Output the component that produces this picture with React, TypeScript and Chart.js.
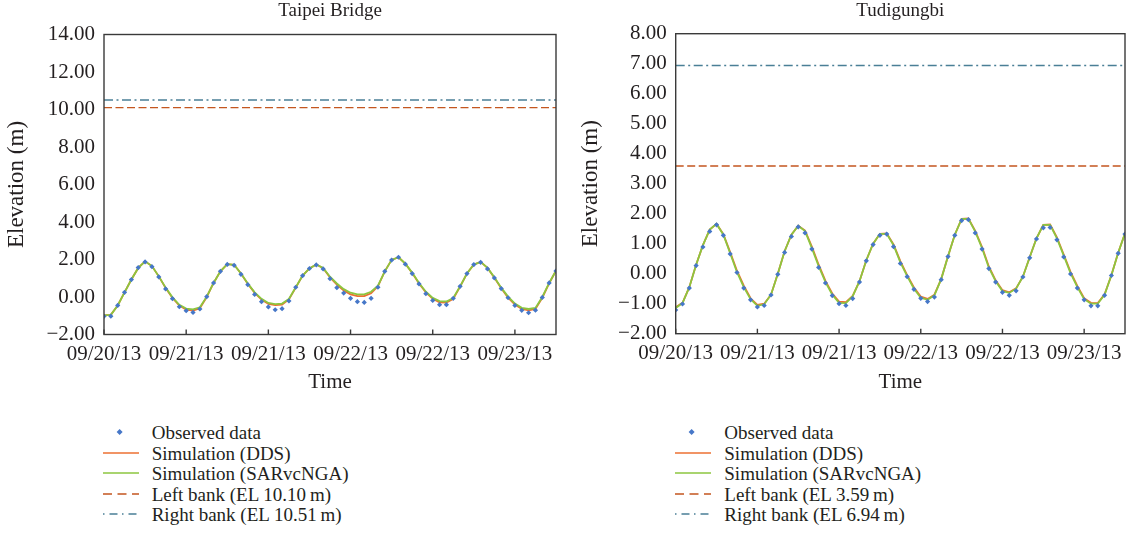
import React, { useEffect, useRef } from 'react';
import { Chart, registerables } from 'chart.js';

Chart.register(...registerables);

// ---------- data ----------
const hourTicks = [0, 12, 24, 36, 48, 60];
const hourTickLabels = ['09/20/13', '09/21/13', '09/21/13', '09/22/13', '09/22/13', '09/23/13'];
const hourMax = 66;

const taipeiTitle = 'Taipei Bridge';
const taipeiYTicks = [-2, 0, 2, 4, 6, 8, 10, 12, 14];
const taipeiObserved = [
  -1.03, -1.02, -0.45, 0.25, 0.93, 1.57, 1.87, 1.62, 1.07, 0.43,
  -0.09, -0.52, -0.73, -0.82, -0.64, 0.02, 0.75, 1.37, 1.74, 1.69,
  1.21, 0.66, 0.14, -0.25, -0.53, -0.68, -0.62, -0.21, 0.52, 1.14,
  1.52, 1.71, 1.50, 0.98, 0.50, 0.21, -0.07, -0.25, -0.29, -0.07,
  0.52, 1.37, 1.97, 2.12, 1.75, 1.25, 0.70, 0.18, -0.18, -0.41,
  -0.41, -0.07, 0.57, 1.25, 1.73, 1.85, 1.50, 1.02, 0.45, -0.04,
  -0.45, -0.71, -0.84, -0.70, -0.02, 0.75, 1.39,
];
const taipeiDDS = [
  -0.98, -0.95, -0.45, 0.25, 0.93, 1.55, 1.90, 1.65, 1.10, 0.48,
  -0.05, -0.46, -0.67, -0.72, -0.60, 0.00, 0.75, 1.37, 1.75, 1.72,
  1.25, 0.70, 0.22, -0.14, -0.37, -0.43, -0.40, -0.13, 0.50, 1.14,
  1.52, 1.73, 1.53, 1.05, 0.66, 0.34, 0.14, 0.05, 0.05, 0.20,
  0.57, 1.37, 1.98, 2.12, 1.78, 1.28, 0.72, 0.24, -0.10, -0.28,
  -0.30, -0.10, 0.55, 1.25, 1.73, 1.87, 1.55, 1.03, 0.47, -0.03,
  -0.40, -0.64, -0.71, -0.64, -0.04, 0.73, 1.40,
];
const taipeiSARvcNGA = [
  -0.98, -0.95, -0.45, 0.25, 0.93, 1.55, 1.90, 1.65, 1.10, 0.50,
  -0.02, -0.42, -0.62, -0.66, -0.55, 0.02, 0.75, 1.37, 1.75, 1.72,
  1.25, 0.72, 0.25, -0.10, -0.32, -0.38, -0.35, -0.10, 0.52, 1.14,
  1.52, 1.73, 1.55, 1.08, 0.72, 0.42, 0.23, 0.14, 0.14, 0.28,
  0.60, 1.37, 1.98, 2.12, 1.78, 1.30, 0.75, 0.28, -0.05, -0.22,
  -0.24, -0.05, 0.57, 1.25, 1.73, 1.87, 1.55, 1.05, 0.50, 0.02,
  -0.35, -0.58, -0.64, -0.58, 0.00, 0.75, 1.40,
];
const taipeiLeftBank = 10.10;
const taipeiRightBank = 10.51;
const taipeiLegend = ['Observed data', 'Simulation (DDS)', 'Simulation (SARvcNGA)', 'Left bank (EL 10.10\u2009m)', 'Right bank (EL 10.51\u2009m)'];

const tudiTitle = 'Tudigungbi';
const tudiYTicks = [-2, -1, 0, 1, 2, 3, 4, 5, 6, 7, 8];
const tudiObserved = [
  -1.21, -1.01, -0.48, 0.27, 0.89, 1.41, 1.63, 1.28, 0.66, 0.04,
  -0.48, -0.87, -1.11, -1.06, -0.71, -0.02, 0.71, 1.24, 1.56, 1.36,
  0.82, 0.21, -0.31, -0.73, -1.00, -1.06, -0.83, -0.28, 0.43, 0.97,
  1.28, 1.32, 0.90, 0.34, -0.10, -0.52, -0.82, -0.93, -0.78, -0.20,
  0.57, 1.28, 1.77, 1.80, 1.36, 0.82, 0.17, -0.28, -0.62, -0.72,
  -0.57, -0.11, 0.53, 1.16, 1.53, 1.54, 1.13, 0.56, -0.01, -0.48,
  -0.87, -1.07, -1.07, -0.72, -0.06, 0.68, 1.32,
];
const tudiDDS = [
  -1.12, -0.97, -0.45, 0.30, 0.95, 1.47, 1.66, 1.32, 0.72, 0.10,
  -0.40, -0.82, -1.04, -1.00, -0.70, 0.00, 0.75, 1.30, 1.60, 1.44,
  0.90, 0.30, -0.24, -0.66, -0.93, -0.95, -0.74, -0.25, 0.45, 1.00,
  1.33, 1.34, 0.98, 0.42, -0.05, -0.46, -0.76, -0.84, -0.70, -0.18,
  0.58, 1.30, 1.83, 1.84, 1.43, 0.89, 0.24, -0.22, -0.55, -0.62,
  -0.49, -0.10, 0.55, 1.18, 1.63, 1.64, 1.21, 0.64, 0.06, -0.41,
  -0.82, -0.97, -0.98, -0.69, -0.05, 0.70, 1.35,
];
const tudiSARvcNGA = [
  -1.14, -0.98, -0.45, 0.30, 0.95, 1.47, 1.66, 1.30, 0.68, 0.05,
  -0.45, -0.85, -1.07, -1.02, -0.70, 0.00, 0.75, 1.30, 1.60, 1.42,
  0.85, 0.25, -0.28, -0.70, -0.97, -0.98, -0.75, -0.25, 0.45, 1.00,
  1.33, 1.33, 0.95, 0.38, -0.08, -0.50, -0.80, -0.87, -0.72, -0.18,
  0.58, 1.30, 1.83, 1.83, 1.40, 0.85, 0.20, -0.25, -0.58, -0.64,
  -0.50, -0.10, 0.55, 1.18, 1.63, 1.63, 1.18, 0.60, 0.02, -0.45,
  -0.85, -1.00, -1.00, -0.70, -0.05, 0.70, 1.35,
];
const tudiLeftBank = 3.59;
const tudiRightBank = 6.94;
const tudiLegend = ['Observed data', 'Simulation (DDS)', 'Simulation (SARvcNGA)', 'Left bank (EL 3.59\u2009m)', 'Right bank (EL 6.94\u2009m)'];

// ---------- styles ----------
const FONT = "'Liberation Serif', 'Times New Roman', serif";
const TEXT = '#231f20';
const BLUE = '#4677c8';
const ORANGE = '#ec7032';
const GREEN = '#8cc63f';
const BROWN = '#c4561f';
const TEAL = '#4a7f96';
const FRAME = '#3a3a3a';
const LEFT_DASH = [8, 3.5];
const RIGHT_DASH = [9, 3.5, 2, 3.5];
const AXIS_FONT_SIZE = 21;
const YTITLE_FONT_SIZE = 23;
const TITLE_FONT_SIZE = 19;
const LEGEND_FONT_SIZE = 19;
const LEGEND_STEP = 20.6;

const fmt = (v: number) => (v < 0 ? '\u2212' + Math.abs(v).toFixed(2) : v.toFixed(2));

const framePlugin = {
  id: 'frameBox',
  afterDraw(chart: any) {
    const { ctx, chartArea } = chart;
    const xs = chart.scales.x;
    ctx.save();
    ctx.strokeStyle = FRAME;
    ctx.lineWidth = 1.4;
    ctx.strokeRect(chartArea.left, chartArea.top, chartArea.right - chartArea.left, chartArea.bottom - chartArea.top);
    ctx.beginPath();
    xs.ticks.forEach((t: any) => {
      const px = xs.getPixelForValue(t.value);
      ctx.moveTo(px, chartArea.bottom);
      ctx.lineTo(px, chartArea.bottom - 5);
    });
    ctx.stroke();
    ctx.restore();
  },
};

const titlePlugin = {
  id: 'panelTitle',
  afterDraw(chart: any, _args: any, opts: any) {
    const { ctx, chartArea } = chart;
    ctx.save();
    ctx.font = `${TITLE_FONT_SIZE}px ${FONT}`;
    ctx.fillStyle = TEXT;
    ctx.textAlign = 'center';
    ctx.textBaseline = 'alphabetic';
    ctx.fillText(opts.text, (chartArea.left + chartArea.right) / 2, opts.y);
    ctx.restore();
  },
};

type PanelProps = {
  title: string;
  yTicks: number[];
  observed: number[];
  dds: number[];
  sar: number[];
  leftBank: number;
  rightBank: number;
  width: number;
  height: number;
  padLeft: number;
  padRight: number;
  padTop: number;
  padBottom: number;
  axisLeft: number;
  plotHeight: number;
  titleY: number;
};

function Panel(p: PanelProps) {
  const ref = useRef<HTMLCanvasElement | null>(null);
  useEffect(() => {
    if (!ref.current) return;
    const toPts = (arr: number[]) => arr.map((y, i) => ({ x: i, y }));
    const flat = (v: number) => [{ x: 0, y: v }, { x: hourMax, y: v }];
    const font = { family: FONT, size: AXIS_FONT_SIZE };
    const chart = new Chart(ref.current, {
      type: 'line',
      data: {
        datasets: [
          {
            label: 'Observed data',
            data: toPts(p.observed),
            showLine: false,
            pointStyle: 'rectRot',
            pointRadius: 2.6,
            pointBackgroundColor: BLUE,
            pointBorderColor: BLUE,
            pointBorderWidth: 0,
            order: 0,
          },
          {
            label: 'Simulation (SARvcNGA)',
            data: toPts(p.sar),
            borderColor: GREEN,
            borderWidth: 1.8,
            pointRadius: 0,
            tension: 0,
            order: 1,
          },
          {
            label: 'Simulation (DDS)',
            data: toPts(p.dds),
            borderColor: ORANGE,
            borderWidth: 1.8,
            pointRadius: 0,
            tension: 0,
            order: 2,
          },
          {
            label: 'Left bank',
            data: flat(p.leftBank),
            borderColor: BROWN,
            borderWidth: 1.4,
            borderDash: LEFT_DASH,
            pointRadius: 0,
            order: 3,
          },
          {
            label: 'Right bank',
            data: flat(p.rightBank),
            borderColor: TEAL,
            borderWidth: 1.4,
            borderDash: RIGHT_DASH,
            pointRadius: 0,
            order: 4,
          },
        ],
      } as any,
      options: {
        responsive: false,
        animation: false,
        events: [],
        layout: { padding: { left: p.padLeft, right: p.padRight, top: p.padTop, bottom: p.padBottom } },
        plugins: {
          legend: { display: false },
          tooltip: { enabled: false },
          title: { display: false },
          panelTitle: { text: p.title, y: p.titleY },
        } as any,
        scales: {
          x: {
            type: 'linear',
            min: 0,
            max: hourMax,
            grid: { display: false, drawTicks: false },
            border: { display: false },
            afterBuildTicks: (s: any) => {
              s.ticks = hourTicks.map((v) => ({ value: v }));
            },
            afterFit: (s: any) => {
              s.height = p.height - p.padBottom - p.padTop - p.plotHeight;
            },
            ticks: {
              font,
              color: TEXT,
              padding: 7,
              maxRotation: 0,
              autoSkip: false,
              callback: (_v: any, i: number) => hourTickLabels[i],
            },
            title: { display: true, text: 'Time', font, color: TEXT, padding: 0 },
          },
          y: {
            type: 'linear',
            min: p.yTicks[0],
            max: p.yTicks[p.yTicks.length - 1],
            grid: { display: false, drawTicks: false },
            border: { display: false },
            afterBuildTicks: (s: any) => {
              s.ticks = p.yTicks.map((v) => ({ value: v }));
            },
            afterFit: (s: any) => {
              s.width = p.axisLeft - p.padLeft;
            },
            ticks: {
              font,
              color: TEXT,
              padding: 9,
              callback: (v: any) => fmt(Number(v)),
            },
            title: {
              display: true,
              text: 'Elevation (m)',
              font: { family: FONT, size: YTITLE_FONT_SIZE },
              color: TEXT,
              padding: { top: 3, bottom: 0 },
            },
          },
        },
      } as any,
      plugins: [framePlugin, titlePlugin],
    });
    return () => chart.destroy();
  }, []);
  return <canvas ref={ref} width={p.width} height={p.height} style={{ display: 'block', width: p.width, height: p.height }} />;
}

function LegendMark({ kind }: { kind: number }) {
  const w = 36;
  const h = 20;
  const y = 10;
  if (kind === 0) {
    return (
      <svg width={w} height={h}>
        <path d={`M16.6 ${y - 3} L19.6 ${y} L16.6 ${y + 3} L13.6 ${y} Z`} fill={BLUE} />
      </svg>
    );
  }
  const col = [ORANGE, ORANGE, GREEN, BROWN, TEAL][kind];
  const dash = kind === 3 ? '9 5.5' : kind === 4 ? '1.5 5 8 4.5' : undefined;
  return (
    <svg width={w} height={h}>
      <line x1={0} y1={y} x2={w} y2={y} stroke={col} strokeWidth={kind >= 3 ? 1.4 : 1.6} strokeDasharray={dash} />
    </svg>
  );
}

function Legend({ items, markX, textX, topY }: { items: string[]; markX: number; textX: number; topY: number }) {
  return (
    <>
      {items.map((t, i) => (
        <React.Fragment key={i}>
          <div style={{ position: 'absolute', left: markX, top: topY + i * LEGEND_STEP - 10, width: 36, height: 20 }}>
            <LegendMark kind={i} />
          </div>
          <div
            style={{
              position: 'absolute',
              left: textX,
              top: topY + i * LEGEND_STEP - 10,
              height: 20,
              lineHeight: '20px',
              font: `${LEGEND_FONT_SIZE}px ${FONT}`,
              color: TEXT,
              whiteSpace: 'nowrap',
            }}
          >
            {t}
          </div>
        </React.Fragment>
      ))}
    </>
  );
}

export default function App() {
  return (
    <div style={{ position: 'absolute', left: 0, top: 0, width: 1129, height: 552, background: '#fff', overflow: 'hidden' }}>
      <div style={{ position: 'absolute', left: 0, top: 0 }}>
        <Panel
          title={taipeiTitle}
          yTicks={taipeiYTicks}
          observed={taipeiObserved}
          dds={taipeiDDS}
          sar={taipeiSARvcNGA}
          leftBank={taipeiLeftBank}
          rightBank={taipeiRightBank}
          width={562}
          height={400}
          padLeft={0}
          padRight={6}
          padTop={34.5}
          padBottom={5}
          axisLeft={104}
          plotHeight={300}
          titleY={16}
        />
      </div>
      <div style={{ position: 'absolute', left: 562, top: 0 }}>
        <Panel
          title={tudiTitle}
          yTicks={tudiYTicks}
          observed={tudiObserved}
          dds={tudiDDS}
          sar={tudiSARvcNGA}
          leftBank={tudiLeftBank}
          rightBank={tudiRightBank}
          width={567}
          height={400}
          padLeft={12.5}
          padRight={1.7}
          padTop={33.7}
          padBottom={5}
          axisLeft={113.7}
          plotHeight={300}
          titleY={16}
        />
      </div>
      <Legend items={taipeiLegend} markX={102.7} textX={151.7} topY={432} />
      <Legend items={tudiLegend} markX={675} textX={724.3} topY={432} />
    </div>
  );
}
